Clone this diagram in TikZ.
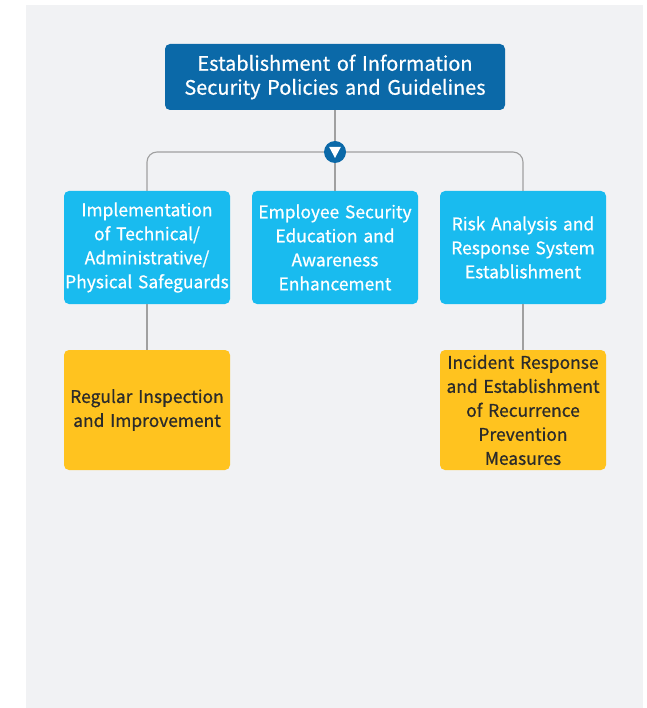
\documentclass[tikz,border=0pt]{standalone}
\usepackage{fontspec}
\setmainfont{Noto Sans CJK KR}[UprightFeatures={FakeBold=0.7}]
\definecolor{bg}{HTML}{F1F2F4}
\definecolor{topblue}{HTML}{0B69A8}
\definecolor{midblue}{HTML}{19BBEF}
\definecolor{amber}{HTML}{FFC31F}
\definecolor{linegray}{HTML}{A0A0A0}
\definecolor{darktext}{HTML}{2B2B2B}
\begin{document}
\begin{tikzpicture}[x=1pt,y=-1pt,
  base/.style={rounded corners=5pt, align=center, inner sep=0pt, draw=none},
  topbox/.style={base, fill=topblue, text=white, minimum width=340pt, minimum height=66pt, text width=330pt, font=\fontsize{19.9}{24}\selectfont},
  midbox/.style={base, fill=midblue, text=white, minimum width=166pt, minimum height=113pt, text width=166pt, font=\fontsize{17.4}{24}\selectfont},
  lowbox/.style={base, fill=amber, text=darktext, minimum width=166pt, minimum height=120pt, text width=166pt, font=\fontsize{17.4}{24}\selectfont},
  conn/.style={draw=linegray, line width=1.1pt},
  junction/.style={circle, fill=topblue, minimum size=22pt, inner sep=0pt}]
\useasboundingbox (0,0) rectangle (646,708);
\fill[white] (0,0) rectangle (646,708);
\fill[bg] (26,5) rectangle (643,708);

\node[topbox] (top) at (335,77) {Establishment of Information\\Security Policies and Guidelines};
\node[midbox] (b1) at (147,247.5) {Implementation\\of Technical/\\Administrative/\\Physical~Safeguards};
\node[midbox] (b2) at (335,247.5) {Employee Security\\Education and\\Awareness\\Enhancement};
\node[midbox] (b3) at (523,247.5) {Risk Analysis and\\Response System\\Establishment};
\node[lowbox] (b4) at (147,410) {Regular Inspection\\and Improvement};
\node[lowbox] (b5) at (523,410) {Incident Response\\and~Establishment\\of Recurrence\\Prevention\\Measures};
\node[junction] (j) at (335,152) {};

\draw[conn] (top.south) -- (j.north);
\draw[conn, rounded corners=10pt] (j.west) -| (b1.north);
\draw[conn, rounded corners=10pt] (j.east) -| (b3.north);
\draw[conn] (j.south) -- (b2.north);
\draw[conn] (b1.south) -- (b4.north);
\draw[conn] (b3.south) -- (b5.north);
\fill[white] ([shift={(-5.8,-5)}]j.center) -- ([shift={(5.8,-5)}]j.center) -- ([shift={(0,6)}]j.center) -- cycle;
\end{tikzpicture}
\end{document}
